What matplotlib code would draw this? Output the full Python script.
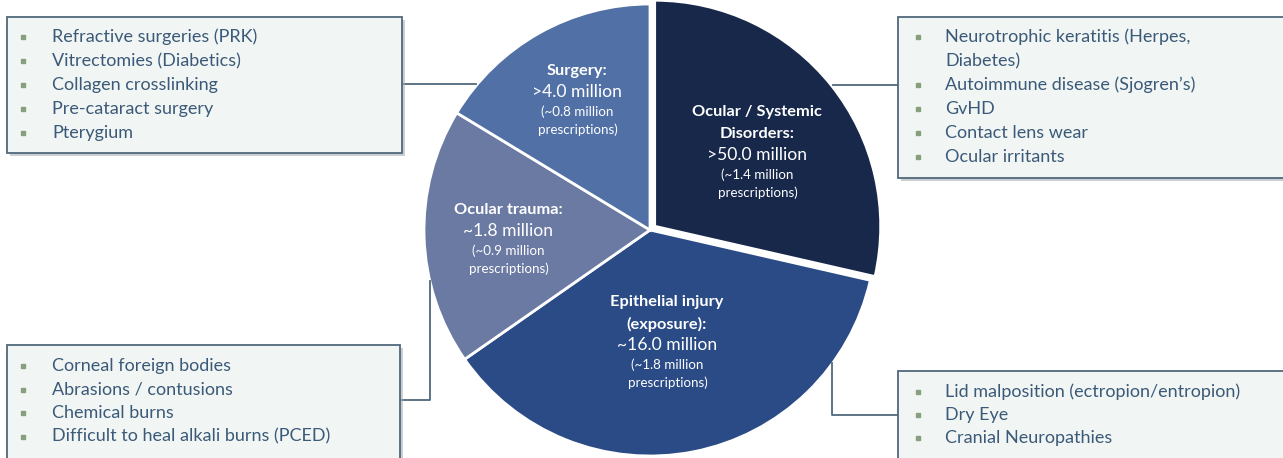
import matplotlib.pyplot as plt
from matplotlib.patches import Rectangle

# slices sized by prescriptions (millions), drawn clockwise from 12 o'clock
slice_names = ['Ocular / Systemic', 'Epithelial injury', 'Ocular trauma', 'Surgery']
prescriptions = [1.4, 1.8, 0.9, 0.8]
slice_colors = ['#17284b', '#2a4b86', '#6b7aa3', '#5170a6']

slice_titles = [['Ocular / Systemic', 'Disorders:'], ['Epithelial injury', '(exposure):'],
                ['Ocular trauma:'], ['Surgery:']]
patients = ['>50.0 million', '~16.0 million', '~1.8 million', '>4.0 million']

surgery_items = ['Refractive surgeries (PRK)', 'Vitrectomies (Diabetics)',
                 'Collagen crosslinking', 'Pre-cataract surgery', 'Pterygium']
systemic_items = [['Neurotrophic keratitis (Herpes,', 'Diabetes)'], "Autoimmune disease (Sjogren\u2019s)",
                  'GvHD', 'Contact lens wear', 'Ocular irritants']
trauma_items = ['Corneal foreign bodies', 'Abrasions / contusions', 'Chemical burns',
                'Difficult to heal alkali burns (PCED)']
epithelial_items = ['Lid malposition (ectropion/entropion)', 'Dry Eye', 'Cranial Neuropathies']

W, H = 1283, 458
FONT = ['Lato', 'DejaVu Sans']
TXT = '#3b5978'
EDGE = '#51687a'
BULLET = '#86a07f'

fig = plt.figure(figsize=(W / 100, H / 100), dpi=100)
ax = fig.add_axes([0, 0, 1, 1])

cx, cy, r = 650, H - 230, 226
wedges, _ = ax.pie(prescriptions, colors=slice_colors, startangle=90, counterclock=False,
                   center=(cx, cy), radius=r, explode=[6, 0, 0, 0],
                   wedgeprops=dict(edgecolor='white', linewidth=2), frame=True)
ax.set_xlim(0, W)
ax.set_ylim(0, H)
ax.set_aspect('equal')
ax.axis('off')


def px(y):
    return H - y


# labels inside slices: (x, y of first line)
label_pos = [(757, 112), (667, 302), (508, 210), (577, 71)]
for (x, y), title, pat, rx in zip(label_pos, slice_titles, patients, prescriptions):
    for line in title:
        ax.text(x, px(y), line, color='white', fontsize=11.8, fontweight='bold', family=FONT,
                ha='center', va='center')
        y += 22
    y -= 1
    ax.text(x, px(y), pat, color='white', fontsize=12.6, family=FONT, ha='center', va='center')
    ax.text(x, px(y + 20), '(~%.1f million' % rx, color='white', fontsize=9.6, family=FONT,
            ha='center', va='center')
    ax.text(x + 1, px(y + 38), 'prescriptions)', color='white', fontsize=9.6, family=FONT,
            ha='center', va='center')


def box(x0, y0, x1, y1, items, first, step, bx, tx):
    ax.add_patch(Rectangle((x0 + 3, px(y1) - 3), x1 - x0, y1 - y0, facecolor='#a7b0b7',
                           edgecolor='none', alpha=0.6, zorder=3))
    ax.add_patch(Rectangle((x0, px(y1)), x1 - x0, y1 - y0, facecolor='#f1f6f4',
                           edgecolor=EDGE, linewidth=1.3, zorder=4))
    y = first
    for item in items:
        lines = item if isinstance(item, list) else [item]
        ax.plot(bx, px(y), marker='s', ms=3.2, color=BULLET, zorder=5)
        for line in lines:
            ax.text(tx, px(y), line, color=TXT, fontsize=13, family=FONT,
                    va='center', ha='left', zorder=5)
            y += step


box(7, 17, 402, 153, surgery_items, 37, 24, 23, 52)
box(898, 17, 1295, 178, systemic_items, 37, 24, 918, 945)
box(7, 345, 400, 460, trauma_items, 366, 23.5, 23, 52)
box(898, 371, 1295, 460, epithelial_items, 392, 23, 918, 945)

# connectors from the pie to each box
line = dict(color=EDGE, linewidth=1.3, zorder=2)
ax.plot([476, 402], [px(84), px(84)], **line)
ax.plot([833, 898], [px(85), px(85)], **line)
ax.plot([430, 430, 400], [px(281), px(400), px(400)], **line)
ax.plot([832, 832, 898], [px(363), px(415), px(415)], **line)

fig.savefig('out.png', dpi=100, facecolor='white')
